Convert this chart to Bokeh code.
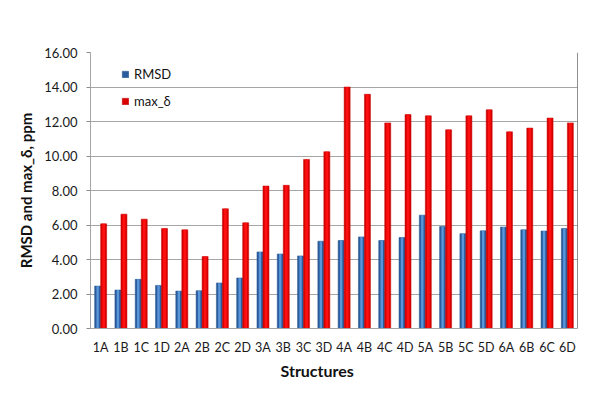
from bokeh.plotting import figure
from bokeh.models import (FactorRange, NumeralTickFormatter, Legend, LegendItem,
                          Span, Title, FixedTicker, ColumnDataSource)
from bokeh.transform import dodge
from bokeh.embed import file_html
from bokeh.resources import INLINE

structures = ["1A", "1B", "1C", "1D", "2A", "2B", "2C", "2D",
              "3A", "3B", "3C", "3D", "4A", "4B", "4C", "4D",
              "5A", "5B", "5C", "5D", "6A", "6B", "6C", "6D"]
rmsd = [2.46, 2.23, 2.85, 2.50, 2.17, 2.19, 2.64, 2.93,
        4.44, 4.32, 4.21, 5.06, 5.10, 5.31, 5.10, 5.27,
        6.57, 5.91, 5.50, 5.66, 5.88, 5.72, 5.65, 5.80]
max_delta = [6.07, 6.63, 6.34, 5.80, 5.72, 4.17, 6.94, 6.13,
             8.26, 8.30, 9.80, 10.25, 14.00, 13.58, 11.92, 12.40,
             12.33, 11.52, 12.33, 12.68, 11.40, 11.62, 12.20, 11.92]
y_ticks = [0, 2, 4, 6, 8, 10, 12, 14, 16]

FONT = "Lato"

src = ColumnDataSource(dict(s=structures, rmsd=rmsd, md=max_delta))

p = figure(x_range=FactorRange(*structures, range_padding=0), y_range=(0, 16),
           frame_width=487, frame_height=276,
           min_border_left=90, min_border_right=22, min_border_top=52, min_border_bottom=18,
           output_backend="svg", toolbar_location=None,
           background_fill_color="white", border_fill_color="white")
p.outline_line_color = None

bw = 0.296
off = bw / 2
r1 = p.vbar(x=dodge("s", -off, range=p.x_range), top="rmsd", width=bw, source=src,
            fill_color="#2a5d9e", line_color="#22508a", line_width=0.5)
p.vbar(x=dodge("s", -off, range=p.x_range), top="rmsd", width=bw * 0.4, source=src,
       fill_color="#5a96da", line_color=None)
r2 = p.vbar(x=dodge("s", off, range=p.x_range), top="md", width=bw, source=src,
            fill_color="#d80000", line_color="#c00000", line_width=0.5)
p.vbar(x=dodge("s", off, range=p.x_range), top="md", width=bw * 0.45, source=src,
       fill_color="#ff1010", line_color=None)

p.add_layout(Span(location=len(structures), dimension="height",
                  line_color="#222222", line_width=1))

p.xgrid.grid_line_color = None
p.ygrid.grid_line_color = "#a6a6a6"
p.ygrid.grid_line_width = 1
p.yaxis.ticker = FixedTicker(ticks=y_ticks)
p.yaxis.formatter = NumeralTickFormatter(format="0.00")
p.yaxis.minor_tick_line_color = None
p.yaxis.major_tick_out = 4
p.yaxis.major_tick_in = 0
p.yaxis.major_tick_line_color = "#8c8c8c"
p.yaxis.axis_line_color = "#a6a6a6"
p.yaxis.major_label_text_font = FONT
p.yaxis.major_label_text_font_size = "13px"
p.yaxis.major_label_text_color = "#1a1a1a"
p.yaxis.major_label_standoff = 9
p.yaxis.axis_label = "RMSD and max_δ, ppm"
p.yaxis.axis_label_text_font = FONT
p.yaxis.axis_label_text_font_style = "bold"
p.yaxis.axis_label_text_font_size = "15px"
p.yaxis.axis_label_text_color = "#111111"
p.yaxis.axis_label_standoff = 6

p.xaxis.major_tick_line_color = None
p.xaxis.minor_tick_line_color = None
p.xaxis.axis_line_color = "#a6a6a6"
p.xaxis.major_label_text_font = FONT
p.xaxis.major_label_text_font_size = "12.5px"
p.xaxis.major_label_text_color = "#1a1a1a"
p.xaxis.major_label_standoff = 5

t = Title(text="Structures", align="left", offset=190, standoff=3,
          text_font=FONT, text_font_style="bold", text_font_size="16px",
          text_color="#111111")
p.add_layout(t, "below")

legend = Legend(items=[LegendItem(label="RMSD", renderers=[r1]),
                       LegendItem(label="max_δ", renderers=[r2])],
                location=(31, 217), padding=0, margin=0, spacing=7,
                glyph_width=8, glyph_height=8, label_height=20,
                label_standoff=5, label_text_font=FONT,
                label_text_font_size="13px", label_text_color="#111111",
                border_line_color=None, background_fill_alpha=0)
p.add_layout(legend)

open("out.html", "w").write(file_html(p, INLINE))
